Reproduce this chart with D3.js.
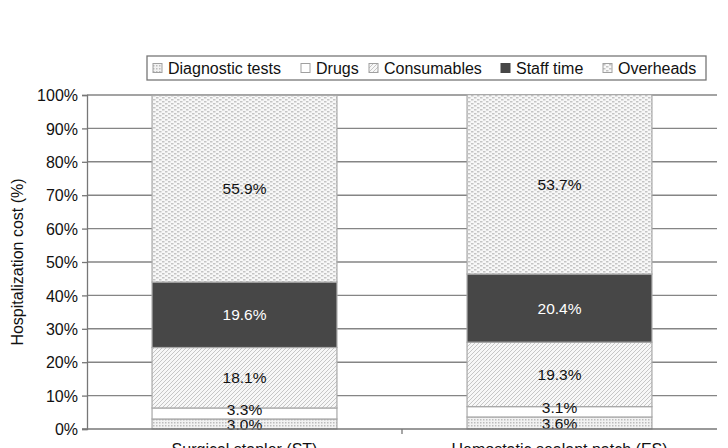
<!DOCTYPE html>
<html>
<head>
<meta charset="utf-8">
<script src="https://cdn.jsdelivr.net/npm/d3@7"></script>
<style>
  body { margin: 0; background: #fff; }
  text { font-family: "Liberation Sans", Arial, sans-serif; fill: #111; }
</style>
</head>
<body>
<div id="chart"></div>
<script>
// data
var categories = ["Surgical stapler (ST)", "Hemostatic sealant patch (ES)"]
var seriesNames = ["Diagnostic tests", "Drugs", "Consumables", "Staff time", "Overheads"]
var diagnostic = [3.0, 3.6]
var drugs = [3.3, 3.1]
var consumables = [18.1, 19.3]
var staff = [19.6, 20.4]
var overheads = [55.9, 53.7]
var yTicks = [0, 10, 20, 30, 40, 50, 60, 70, 80, 90, 100]

var W = 728, H = 448
var margin = {top: 95, right: 11, bottom: 19, left: 87}
var width = W - margin.left - margin.right,
    height = H - margin.top - margin.bottom

var svg = d3.select("#chart").append("svg")
  .attr("width", W).attr("height", H)

// patterns
var defs = svg.append("defs")
var p1 = defs.append("pattern").attr("id", "pDiag")
  .attr("width", 3).attr("height", 3).attr("patternUnits", "userSpaceOnUse")
p1.append("rect").attr("width", 3).attr("height", 3).attr("fill", "#f2f2f2")
p1.append("rect").attr("width", 1.5).attr("height", 1.5).attr("fill", "#bcbcbc")

var p3 = defs.append("pattern").attr("id", "pCons")
  .attr("width", 4).attr("height", 4).attr("patternUnits", "userSpaceOnUse")
p3.append("rect").attr("width", 4).attr("height", 4).attr("fill", "#f7f7f7")
p3.append("path").attr("d", "M-1,1 L1,-1 M0,4 L4,0 M3,5 L5,3")
  .attr("stroke", "#c6c6c6").attr("stroke-width", 1)

var p5 = defs.append("pattern").attr("id", "pOver")
  .attr("width", 6).attr("height", 4).attr("patternUnits", "userSpaceOnUse")
p5.append("rect").attr("width", 6).attr("height", 4).attr("fill", "#f8f8f8")
p5.append("rect").attr("x", 0).attr("y", 0).attr("width", 2.5).attr("height", 1.5).attr("fill", "#c4c4c4")
p5.append("rect").attr("x", 3).attr("y", 2).attr("width", 2.5).attr("height", 1.5).attr("fill", "#c4c4c4")

var fills = ["url(#pDiag)", "#ffffff", "url(#pCons)", "#474747", "url(#pOver)"]

var g = svg.append("g")
  .attr("transform", "translate(" + margin.left + "," + margin.top + ")")

var x = d3.scaleBand().domain(categories).range([0, width]).paddingInner(0.413).paddingOuter(0.2065)
var y = d3.scaleLinear().domain([0, 100]).range([height, 0])

// gridlines
g.append("g").selectAll("line").data(yTicks.slice(1)).enter().append("line")
  .attr("x1", 0).attr("x2", width)
  .attr("y1", d => y(d)).attr("y2", d => y(d))
  .attr("stroke", "#858585").attr("stroke-width", 1.4)

// stacked data
var rows = categories.map(function(c, i) {
  return {cat: c, "Diagnostic tests": diagnostic[i], "Drugs": drugs[i],
    "Consumables": consumables[i], "Staff time": staff[i], "Overheads": overheads[i]}
})
var stacked = d3.stack().keys(seriesNames)(rows)

var layers = g.append("g").selectAll("g").data(stacked).enter().append("g")
  .attr("fill", (d, i) => fills[i])

layers.selectAll("rect").data(d => d).enter().append("rect")
  .attr("x", d => x(d.data.cat))
  .attr("width", x.bandwidth())
  .attr("y", d => y(d[1]))
  .attr("height", d => y(d[0]) - y(d[1]))
  .attr("stroke", "#a8a8a8").attr("stroke-width", 1.2)

// value labels (drawn above all segments)
var labelShift = [1, -4, 0, 0, 0]
var labelG = g.append("g")
stacked.forEach(function(layer, li) {
  labelG.append("g").selectAll("text").data(layer).enter().append("text")
    .attr("x", d => x(d.data.cat) + x.bandwidth() / 2)
    .attr("y", d => (y(d[0]) + y(d[1])) / 2 + 5.5 + labelShift[li])
    .attr("text-anchor", "middle")
    .style("font-size", "15.5px")
    .style("fill", li == 3 ? "#ffffff" : "#111")
    .text(d => d.data[layer.key].toFixed(1) + "%")
})

// y axis
var yAxis = g.append("g")
  .call(d3.axisLeft(y).tickValues(yTicks).tickSize(5).tickFormat(d => d + "%"))
yAxis.select(".domain").attr("stroke", "#777").attr("stroke-width", 1.3)
yAxis.selectAll(".tick line").attr("stroke", "#777").attr("stroke-width", 1.3)
yAxis.selectAll("text").attr("x", -9).style("font-size", "16px").attr("dy", "0.36em")

// x axis
var xAxis = g.append("g").attr("transform", "translate(0," + height + ")")
xAxis.append("line").attr("x1", -5).attr("x2", width)
  .attr("stroke", "#777").attr("stroke-width", 1.5)
xAxis.append("line").attr("x1", width / 2).attr("x2", width / 2).attr("y1", 0).attr("y2", 5)
  .attr("stroke", "#777").attr("stroke-width", 1.3)
xAxis.selectAll("text").data(categories).enter().append("text")
  .attr("x", d => x(d) + x.bandwidth() / 2)
  .attr("y", 26)
  .attr("text-anchor", "middle")
  .style("font-size", "16px")
  .text(d => d)

// y title
svg.append("text")
  .attr("transform", "translate(23," + (margin.top + height / 2) + ") rotate(-90)")
  .attr("text-anchor", "middle")
  .style("font-size", "16px")
  .text("Hospitalization cost (%)")

// legend
var legend = svg.append("g").attr("transform", "translate(147,56)")
legend.append("rect").attr("width", 559).attr("height", 24)
  .attr("fill", "#fff").attr("stroke", "#777").attr("stroke-width", 1.3)
var legendX = [6, 154, 222, 354, 456]
var items = legend.selectAll("g.item").data(seriesNames).enter().append("g")
  .attr("transform", (d, i) => "translate(" + legendX[i] + ",0)")
items.append("rect").attr("x", 0).attr("y", 7.5).attr("width", 9).attr("height", 9)
  .attr("fill", (d, i) => fills[i])
  .attr("stroke", (d, i) => i == 3 ? "#474747" : "#a0a0a0").attr("stroke-width", 1)
items.append("text").attr("x", 15).attr("y", 18)
  .style("font-size", "16px")
  .text(d => d)
</script>
</body>
</html>
